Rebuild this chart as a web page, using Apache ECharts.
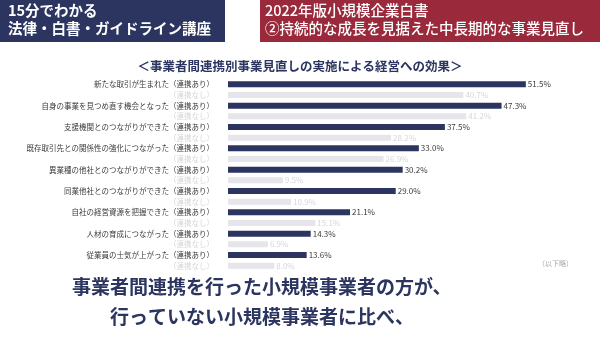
<!DOCTYPE html>
<html><head><meta charset="utf-8">
<script src="https://cdn.jsdelivr.net/npm/echarts@6/dist/echarts.min.js"></script>
<style>html,body{margin:0;padding:0;background:#fff}#c{width:600px;height:338px}</style>
</head><body><div id="c"></div>
<script>
const effects = ['新たな取引が生まれた','自身の事業を見つめ直す機会となった','支援機関とのつながりができた','既存取引先との関係性の強化につながった','異業種の他社とのつながりができた','同業他社とのつながりができた','自社の経営資源を把握できた','人材の育成につながった','従業員の士気が上がった'];
const withLinkage = [51.5,47.3,37.5,33.0,30.2,29.0,21.1,14.3,13.6];
const withoutLinkage = [40.7,41.2,28.2,26.9,9.5,10.9,15.1,6.9,8.0];
const withTag = '（連携あり）';
const withoutTag = '（連携なし）';

const FONT = '"Noto Sans CJK JP","Noto Sans",sans-serif';
const NAVY = '#2b3560';
const RED = '#9a2a3b';
const LIGHT = '#e6e6ea';
const LIGHTTXT = '#d6d6dc';

const cats = [], data = [];
effects.forEach((e,i)=>{
  cats.push(e + withTag);
  data.push({value: withLinkage[i], itemStyle:{color:NAVY}, label:{color:'#3a3a3a'}});
  cats.push(withoutTag);
  data.push({value: withoutLinkage[i], itemStyle:{color:LIGHT}, label:{color:LIGHTTXT}});
});

const chart = echarts.init(document.getElementById('c'));
chart.setOption({
  animation:false,
  textStyle:{fontFamily:FONT},
  grid:{left:228, top:79, height:192, width:347},
  xAxis:{type:'value', min:0, max:60, show:false},
  yAxis:{type:'category', data:cats, inverse:true,
    axisLine:{show:false}, axisTick:{show:false},
    axisLabel:{fontSize:7.5, margin:14, fontFamily:FONT,
      color:(v)=> v===withoutTag ? LIGHTTXT : '#3a3a3a'}},
  series:[{type:'bar', data:data, barWidth:6,
    label:{show:true, position:'right', distance:2, fontSize:8, fontFamily:FONT,
      formatter:(p)=>p.value.toFixed(1)+'%'}}],
  graphic:[
    {type:'rect', shape:{x:0,y:0,width:225,height:42}, style:{fill:NAVY}},
    {type:'text', left:8, top:3, style:{text:'15分でわかる', fill:'#fff', font:'bold 14.5px '+FONT}},
    {type:'text', left:8, top:21, style:{text:'法律・白書・ガイドライン講座', fill:'#fff', font:'bold 14.5px '+FONT}},
    {type:'rect', shape:{x:260,y:0,width:340,height:42}, style:{fill:RED}},
    {type:'text', left:265, top:3, style:{text:'2022年版小規模企業白書', fill:'#fff', font:'500 14.5px '+FONT}},
    {type:'text', left:265, top:21, style:{text:'②持続的な成長を見据えた中長期的な事業見直し', fill:'#fff', font:'500 14.5px '+FONT}},
    {type:'text', left:'center', top:60, style:{text:'＜事業者間連携別事業見直しの実施による経営への効果＞', fill:NAVY, font:'bold 12.5px '+FONT}},
    {type:'text', left:538, top:260, style:{text:'（以下略）', fill:'#aaa', font:'7px '+FONT}},
    {type:'text', left:72, top:277, style:{text:'事業者間連携を行った小規模事業者の方が、', fill:NAVY, font:'bold 19px '+FONT}},
    {type:'text', left:110, top:307, style:{text:'行っていない小規模事業者に比べ、', fill:NAVY, font:'bold 19px '+FONT}}
  ]
});
</script></body></html>
